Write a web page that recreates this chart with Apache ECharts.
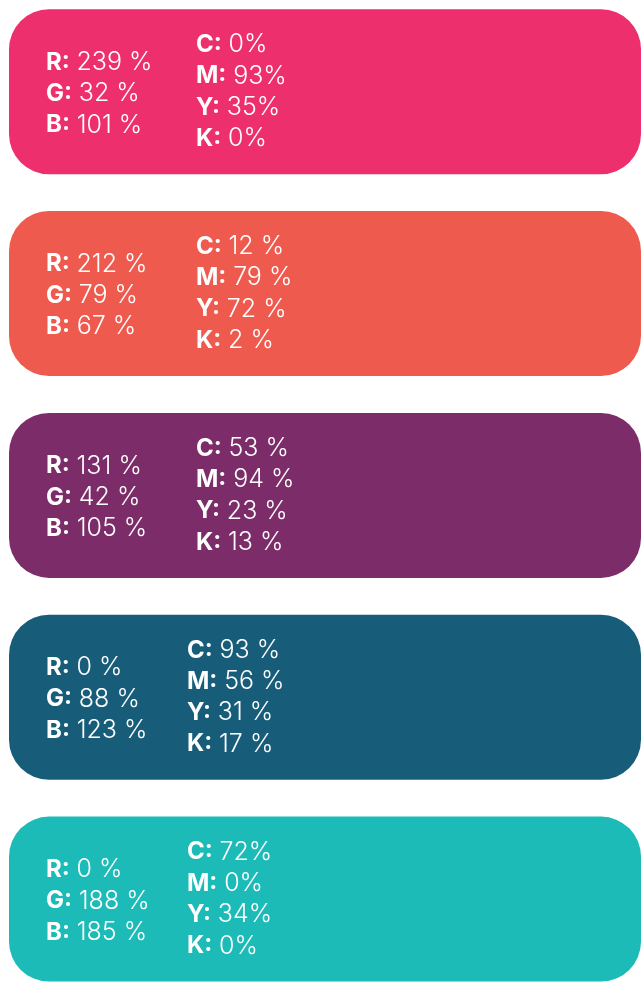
<!DOCTYPE html>
<html><head><meta charset="utf-8">
<script src="https://cdn.jsdelivr.net/npm/echarts@6/dist/echarts.min.js"></script>
<style>html,body{margin:0;padding:0;background:#fff}#c{width:641px;height:982px}</style>
</head><body><div id="c"></div>
<script>
const swatches = ['Pink', 'Coral', 'Plum', 'Petrol', 'Turquoise'];
const swatchColors = ['#ED2F6E', '#EF5A4F', '#7B2C69', '#175D7A', '#1CBBB7'];
const rValues = [239, 212, 131, 0, 0];
const gValues = [32, 79, 42, 88, 188];
const bValues = [101, 67, 105, 123, 185];
const cValues = [0, 12, 53, 93, 72];
const mValues = [93, 79, 94, 56, 0];
const yValues = [35, 72, 23, 31, 34];
const kValues = [0, 2, 13, 17, 0];
const cmykSpaced = [false, true, true, true, false];

const FONT = 'Inter, "Liberation Sans", sans-serif';
const rich = {
  b: { fontFamily: FONT, fontSize: 24, fontWeight: 700, fill: '#fff', color: '#fff' },
  n: { fontFamily: FONT, fontSize: 25, fontWeight: 300, fill: '#fff', color: '#fff' }
};

function line(label, val, spaced) {
  return '{b|' + label + ':} {n|' + val + (spaced ? ' %' : '%') + '}';
}

const chart = echarts.init(document.getElementById('c'));
chart.setOption({
  animation: false,
  grid: { left: 9, right: 0, top: 0, bottom: 0 },
  xAxis: { type: 'value', min: 0, max: 1, show: false },
  yAxis: { type: 'value', inverse: true, min: -0.4543, max: 4.4107, show: false },
  series: [{
    type: 'custom',
    data: swatches.map((s, i) => [0, 1, i]),
    encode: { x: [0, 1], y: 2 },
    renderItem: function (params, api) {
      const i = api.value(2);
      const p0 = api.coord([0, i]);
      const p1 = api.coord([1, i]);
      const h = api.size([0, 0.8175])[1];
      const cy = p0[1];
      const x0 = p0[0];
      const lh = 31.3;
      const children = [{
        type: 'rect',
        shape: { x: x0, y: cy - h / 2, width: p1[0] - x0, height: h, r: 40 },
        style: { fill: swatchColors[i] }
      }];
      const left = [line('R', rValues[i], true), line('G', gValues[i], true), line('B', bValues[i], true)];
      left.forEach((t, k) => {
        children.push({
          type: 'text',
          style: { x: x0 + 37, y: cy + 2 + (k - 1) * lh, text: t, rich: rich, fill: '#fff',
                   verticalAlign: 'middle', align: 'left', fontFamily: FONT, fontSize: 24 }
        });
      });
      const sp = cmykSpaced[i];
      const right = [line('C', cValues[i], sp), line('M', mValues[i], sp), line('Y', yValues[i], sp), line('K', kValues[i], sp)];
      const rx = x0 + (i < 3 ? 187 : 178);
      right.forEach((t, k) => {
        children.push({
          type: 'text',
          style: { x: rx, y: cy + (k - 1.5) * lh, text: t, rich: rich, fill: '#fff',
                   verticalAlign: 'middle', align: 'left', fontFamily: FONT, fontSize: 24 }
        });
      });
      return { type: 'group', children: children };
    }
  }]
});
</script>
</body></html>
